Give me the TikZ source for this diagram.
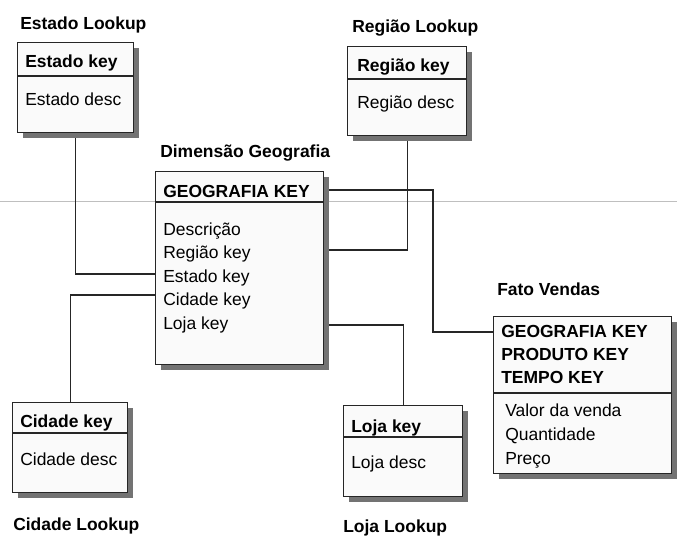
\documentclass[tikz,border=0pt]{standalone}
\usepackage{fontspec}
\setmainfont{Liberation Sans}
\usetikzlibrary{shadows,backgrounds}
\begin{document}
\begin{tikzpicture}[x=0.75pt,y=-0.75pt,
  tbl/.style={draw=black!85, line width=0.8pt, fill=gray!4, anchor=north west, inner sep=0pt,
    drop shadow={shadow xshift=3.75pt, shadow yshift=-3.75pt, fill=black!55, opacity=1}},
  ttl/.style={anchor=base west, inner sep=0pt, font=\fontsize{13.1}{15}\selectfont\bfseries},
  keyrow/.style={anchor=base west, inner sep=0pt, font=\fontsize{13.1}{15}\selectfont\bfseries},
  att/.style={anchor=base west, inner sep=0pt, font=\fontsize{13.1}{15}\selectfont},
  divline/.style={draw=black!85, line width=0.8pt},
  link/.style={draw=black!85, line width=0.8pt}]
\useasboundingbox (0,0) rectangle (677,536);

% tables
\node[tbl, minimum width=87pt, minimum height=67.5pt] (estado) at (17,42) {};
\node[tbl, minimum width=89.25pt, minimum height=66.75pt] (regiao) at (347,46) {};
\node[tbl, minimum width=126pt, minimum height=144.75pt] (dim) at (155,171) {};
\node[tbl, minimum width=133.5pt, minimum height=117.75pt] (fato) at (493,316) {};
\node[tbl, minimum width=86.25pt, minimum height=67.5pt] (cidade) at (12,402) {};
\node[tbl, minimum width=89.25pt, minimum height=68.25pt] (loja) at (343,405) {};

% dividers
\draw[divline] (estado.west |- 0,76) -- (estado.east |- 0,76);
\draw[divline] (regiao.west |- 0,79) -- (regiao.east |- 0,79);
\draw[divline] (dim.west |- 0,202) -- (dim.east |- 0,202);
\draw[divline] (fato.west |- 0,393) -- (fato.east |- 0,393);
\draw[divline] (cidade.west |- 0,433) -- (cidade.east |- 0,433);
\draw[divline] (loja.west |- 0,437) -- (loja.east |- 0,437);

% titles
\node[ttl] (tEstado) at (20,29) {Estado Lookup};
\node[ttl] (tRegiao) at (352,32) {Região Lookup};
\node[ttl] (tDim) at (160,157) {Dimensão Geografia};
\node[ttl] (tFato) at (497,295) {Fato Vendas};
\node[ttl] (tCidade) at (13,530) {Cidade Lookup};
\node[ttl] (tLoja) at (343,532) {Loja Lookup};

% Estado
\node[keyrow] (eKey) at (25,67) {Estado key};
\node[att] (eDesc) at (25,105) {Estado desc};
% Regiao
\node[keyrow] (rKey) at (357,71) {Região key};
\node[att] (rDesc) at (357,108) {Região desc};
% Dimensao
\node[keyrow] (dKey) at (163,197) {GEOGRAFIA KEY};
\node[att] (d1) at (163,235) {Descrição};
\node[att] (d2) at (163,258.5) {Região key};
\node[att] (d3) at (163,282) {Estado key};
\node[att] (d4) at (163,305.5) {Cidade key};
\node[att] (d5) at (163,329) {Loja key};
% Fato
\node[keyrow] (f1) at (501,337) {GEOGRAFIA KEY};
\node[keyrow] (f2) at (501,360) {PRODUTO KEY};
\node[keyrow] (f3) at (501,383) {TEMPO KEY};
\node[att] (f4) at (505,416) {Valor da venda};
\node[att] (f5) at (505,440) {Quantidade};
\node[att] (f6) at (505,464) {Preço};
% Cidade
\node[keyrow] (cKey) at (20,427) {Cidade key};
\node[att] (cDesc) at (20,465) {Cidade desc};
% Loja
\node[keyrow] (lKey) at (351,432) {Loja key};
\node[att] (lDesc) at (351,468) {Loja desc};

\begin{scope}[on background layer]
\draw[gray!50, line width=0.6pt] (0,201) -- (677,201);
\draw[link] (dim.east |- 0,190) -- (433,190) -- (433,332) -- (fato.west |- 0,332);
\draw[link] (regiao.south) |- (dim.east |- 0,250);
\draw[link] (estado.south) |- (dim.west |- 0,274);
\draw[link] (dim.west |- 0,295) -| (cidade.north);
\draw[link] (dim.east |- 0,325) -| (loja.north);
\end{scope}
\end{tikzpicture}
\end{document}
